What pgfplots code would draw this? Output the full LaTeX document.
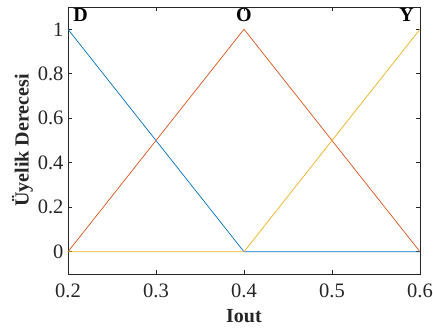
\documentclass[border=0pt]{standalone}
\usepackage{pgfplots}
\pgfplotsset{compat=1.18}
\usepackage{fontspec}
\setmainfont{Liberation Serif}
\definecolor{mblue}{rgb}{0,0.447,0.741}
\definecolor{morange}{rgb}{0.85,0.325,0.098}
\definecolor{myellow}{rgb}{0.929,0.694,0.125}
\begin{document}
\begin{tikzpicture}
\useasboundingbox (-68pt,-55pt) rectangle (365pt,274pt);
\begin{axis}[
  scale only axis, width=352pt, height=267pt,
  at={(0,0)}, anchor=south west,
  xmin=0.2, xmax=0.6, ymin=-0.1, ymax=1.1,
  xtick={0.2,0.3,0.4,0.5,0.6},
  ytick={0,0.2,0.4,0.6,0.8,1},
  xticklabels={0.2,0.3,0.4,0.5,0.6},
  yticklabels={0,0.2,0.4,0.6,0.8,1},
  /pgf/number format/assume math mode=true,
  tick align=inside, major tick length=4pt,
  axis line style={line width=0.6pt, black!85},
  every tick/.style={black!85, line width=0.6pt},
  tick label style={font=\rmfamily\fontsize{20.5}{20.5}\selectfont, text=black!85},
  xticklabel style={yshift=-6pt},
  yticklabel style={xshift=-1pt},
  xlabel={\textbf{Iout}}, ylabel={\textbf{Üyelik Derecesi}},
  label style={font=\fontsize{20}{20}\selectfont, text=black!85},
  xlabel style={yshift=-5pt},
  ylabel style={yshift=-2pt},
  clip=false,
]
\addplot[mblue, line width=0.7pt] coordinates {(0.2,1) (0.4,0) (0.6,0)};
\addplot[morange, line width=0.7pt] coordinates {(0.2,0) (0.4,1) (0.6,0)};
\addplot[myellow, line width=0.7pt] coordinates {(0.2,0) (0.4,0) (0.6,1)};
\node[anchor=base west, font=\fontsize{20}{20}\selectfont\bfseries] at (axis cs:0.202,1.035) {D};
\node[anchor=base, font=\fontsize{20}{20}\selectfont\bfseries] at (axis cs:0.4,1.035) {O};
\node[anchor=base east, font=\fontsize{20}{20}\selectfont\bfseries] at (axis cs:0.597,1.035) {Y};
\end{axis}
\end{tikzpicture}
\end{document}
